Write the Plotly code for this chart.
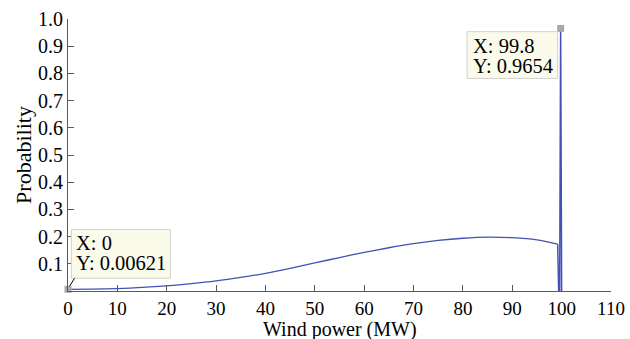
import plotly.graph_objects as go

# Smooth continuous part of the distribution (MW, probability)
curve_x = [0, 5, 10, 15, 20, 25, 30, 35, 40, 45, 50, 55, 60, 65, 70, 75, 80, 85, 90, 95, 99.2]
curve_y = [0.0062, 0.007, 0.009, 0.013, 0.019, 0.027, 0.037, 0.050, 0.065, 0.083, 0.103,
           0.123, 0.142, 0.159, 0.174, 0.186, 0.194, 0.198, 0.196, 0.188, 0.172]

# Tail near rated power with probability mass
tail_x = [99.2, 99.4, 99.6, 99.8, 100.0]
tail_y = [0.172, 0.0, 0.0, 0.9654, 0.0]

# Data cursors
cursor_x = [0, 99.8]
cursor_y = [0.00621, 0.9654]

x_ticks = [0, 10, 20, 30, 40, 50, 60, 70, 80, 90, 100, 110]
y_ticks = [0.1, 0.2, 0.3, 0.4, 0.5, 0.6, 0.7, 0.8, 0.9, 1.0]
y_tick_text = ["0.1", "0.2", "0.3", "0.4", "0.5", "0.6", "0.7", "0.8", "0.9", "1.0"]

LINE = "#4152b4"
AXIS = "#5a5a5a"
FONT = "Liberation Serif, Times New Roman, serif"
BOX_BG = "#fbfbec"
BOX_LINE = "#d0d0d0"

fig = go.Figure()
fig.add_trace(go.Scatter(x=curve_x, y=curve_y, mode="lines",
                         line=dict(color=LINE, width=1.3, shape="spline", smoothing=0.8),
                         showlegend=False, hoverinfo="skip"))
fig.add_trace(go.Scatter(x=tail_x, y=tail_y, mode="lines",
                         line=dict(color=LINE, width=1.5),
                         showlegend=False, hoverinfo="skip"))

# cursor boxes (pixel-sized, anchored at the data points)
def cursor(xv, yv, box, lines, text_dx, text_dys, leader=None):
    bx0, bx1, by0, by1 = box
    fig.add_shape(type="rect", xref="x", yref="y", xsizemode="pixel", ysizemode="pixel",
                  xanchor=xv, yanchor=yv, x0=bx0, x1=bx1, y0=by0, y1=by1,
                  fillcolor=BOX_BG, line=dict(color=BOX_LINE, width=1), layer="above")
    if leader:
        lx0, ly0, lx1, ly1 = leader
        fig.add_shape(type="line", xref="x", yref="y", xsizemode="pixel", ysizemode="pixel",
                      xanchor=xv, yanchor=yv, x0=lx0, y0=ly0, x1=lx1, y1=ly1,
                      line=dict(color="black", width=1), layer="above")
    for t, dy in zip(lines, text_dys):
        fig.add_annotation(x=xv, y=yv, xref="x", yref="y", text=t, showarrow=False,
                           xanchor="left", yanchor="middle", xshift=text_dx, yshift=dy,
                           font=dict(family=FONT, size=20.5, color="black"))

cursor(cursor_x[0], cursor_y[0], (3.3, 102.3, 11.1, 59.7),
       [f"X: {cursor_x[0]}", f"Y: {cursor_y[0]}"], 5.5, [46.7, 26.0],
       leader=(1.5, 3, 6.5, 11.1))
cursor(cursor_x[1], cursor_y[1], (-93.6, -3.0, -3.3, -50.0),
       [f"X: {cursor_x[1]}", f"Y: {cursor_y[1]}"], -89.6, [-17.7, -37.7])

fig.add_trace(go.Scatter(x=cursor_x, y=cursor_y, mode="markers",
                         marker=dict(symbol="square", size=7, color="#a8a8a8"),
                         showlegend=False, hoverinfo="skip", cliponaxis=False))

# x-axis title placed as paper annotation
fig.add_annotation(x=0.5, y=-0.142, xref="paper", yref="paper", text="Wind power (MW)",
                   showarrow=False, xanchor="center", yanchor="middle",
                   font=dict(family=FONT, size=20, color="black"))

fig.update_layout(
    width=630, height=339,
    margin=dict(l=68, r=19, t=19, b=48, autoexpand=False),
    paper_bgcolor="white", plot_bgcolor="white",
    font=dict(family=FONT, size=20, color="black"),
    xaxis=dict(range=[0, 110], tickvals=x_ticks, ticks="inside", ticklen=6,
               tickcolor=AXIS, showline=True, linecolor=AXIS, linewidth=1,
               showgrid=False, zeroline=False, automargin=False,
               tickfont=dict(size=19)),
    yaxis=dict(range=[0, 1.0], tickvals=y_ticks, ticktext=y_tick_text, ticks="inside",
               ticklen=6, tickcolor=AXIS, showline=True, linecolor=AXIS,
               linewidth=1, showgrid=False, zeroline=False, automargin=False,
               title=dict(text="Probability", font=dict(size=22), standoff=0),
               tickfont=dict(size=20)),
)

fig.write_html("out.html")
